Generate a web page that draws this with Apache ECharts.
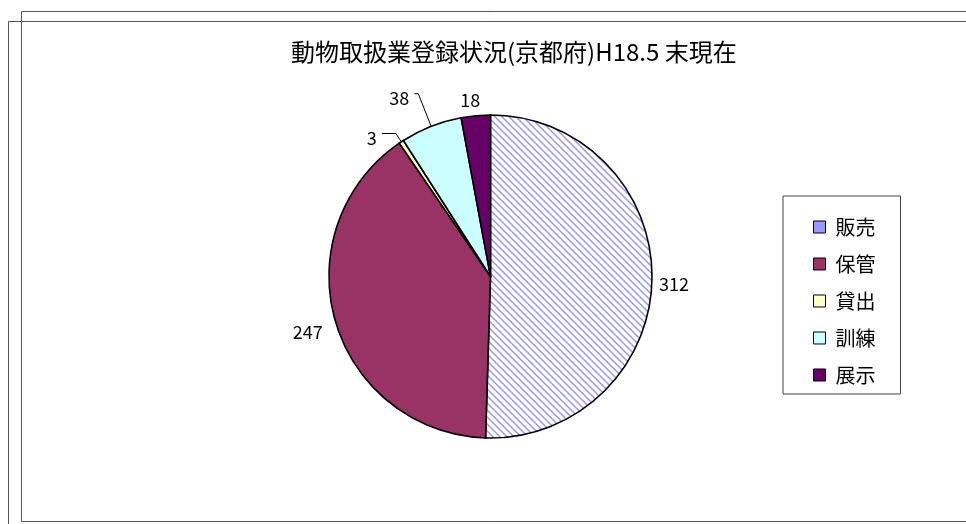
<!DOCTYPE html>
<html>
<head>
<meta charset="utf-8">
<script src="https://cdn.jsdelivr.net/npm/echarts@6/dist/echarts.min.js"></script>
<style>
    html, body { margin: 0; padding: 0; background: #fff; }
    #chart { width: 966px; height: 524px; }
</style>
</head>
<body>
<div id="chart"></div>
<script>
/* ===== data ===== */
const titleText = "動物取扱業登録状況(京都府)H18.5 末現在";
const categories = ["販売", "保管", "貸出", "訓練", "展示"];
const counts = [312, 247, 3, 38, 18];
const colors = ["#9999ff", "#993366", "#ffffcc", "#ccffff", "#660066"];

const FONT = "'Noto Sans CJK JP', 'Noto Sans', sans-serif";

/* ===== diagonal hatch for 販売 ===== */
function hatch() {
    const c = document.createElement("canvas");
    c.width = 7; c.height = 7;
    const g = c.getContext("2d");
    g.fillStyle = "#fff"; g.fillRect(0, 0, 7, 7);
    for (let i = 0; i < 7; i++) {
        g.fillStyle = "#9999ff"; g.fillRect(i, i, 1, 1);
        g.fillStyle = "#b5b5ff"; g.fillRect((i + 1) % 7, i, 1, 1);
        g.fillStyle = "#d8d8ff"; g.fillRect((i + 6) % 7, i, 1, 1);
    }
    return c;
}

// per-slice label placement (Excel style: some labels without leader lines)
const labelTweaks = [
    { labelLine: { show: false, length: 2, length2: 0 } },
    { labelLine: { show: false, length: 8, length2: 0 } },
    { labelLine: { length: 10, length2: 14 } },
    { labelLine: { length: 35, length2: 4 } },
    { labelLine: { show: false, length: 16, length2: 0 }, label: { distanceToLabelLine: -6 } },
];
// small vertical nudges of the label text (Excel puts the text below the line end)
const labelDy = [5, 8, 5, 4, 0];

const pieData = categories.map((name, i) => Object.assign({
    name, value: counts[i],
    itemStyle: { color: i === 0 ? { image: hatch(), repeat: "repeat" } : colors[i] },
}, labelTweaks[i]));

const chart = echarts.init(document.getElementById("chart"));
chart.setOption({
    animation: false,
    backgroundColor: "#fff",
    title: {
        text: titleText, left: 291, top: 40, padding: 0,
        textStyle: { fontFamily: FONT, fontSize: 24, fontWeight: "normal", color: "#000" },
    },
    legend: {
        orient: "vertical", left: 783, top: 196,
        padding: [21, 25, 9, 30], itemGap: 17,
        itemWidth: 12, itemHeight: 12, icon: "rect",
        borderColor: "#444", borderWidth: 1,
        itemStyle: { borderColor: "#000", borderWidth: 1 },
        textStyle: { fontFamily: FONT, fontSize: 20, color: "#000", padding: [0, 0, 0, 5] },
        data: categories.map((n, i) => ({ name: n, itemStyle: { color: colors[i] } })),
        selectedMode: false,
    },
    graphic: [
        { type: "rect", silent: true, shape: { x: 8.5, y: 21.5, width: 1200, height: 800 },
          style: { fill: "none", stroke: "#555", lineWidth: 1 } },
        { type: "rect", silent: true, shape: { x: 21.5, y: 11.5, width: 1200, height: 510 },
          style: { fill: "none", stroke: "#555", lineWidth: 1 } },
    ],
    series: [{
        type: "pie",
        center: [490.5, 276.5],
        radius: 161.5,
        startAngle: 90,
        clockwise: true,
        avoidLabelOverlap: false,
        emphasis: { disabled: true },
        itemStyle: { borderColor: "#000", borderWidth: 1.6 },
        label: {
            show: true, position: "outside", formatter: "{c}",
            fontFamily: FONT, fontSize: 18, color: "#000",
        },
        labelLine: { show: true, lineStyle: { color: "#000", width: 1 } },
        labelLayout: p => ({ dy: labelDy[p.dataIndex] }),
        data: pieData,
    }],
});
</script>
</body>
</html>
